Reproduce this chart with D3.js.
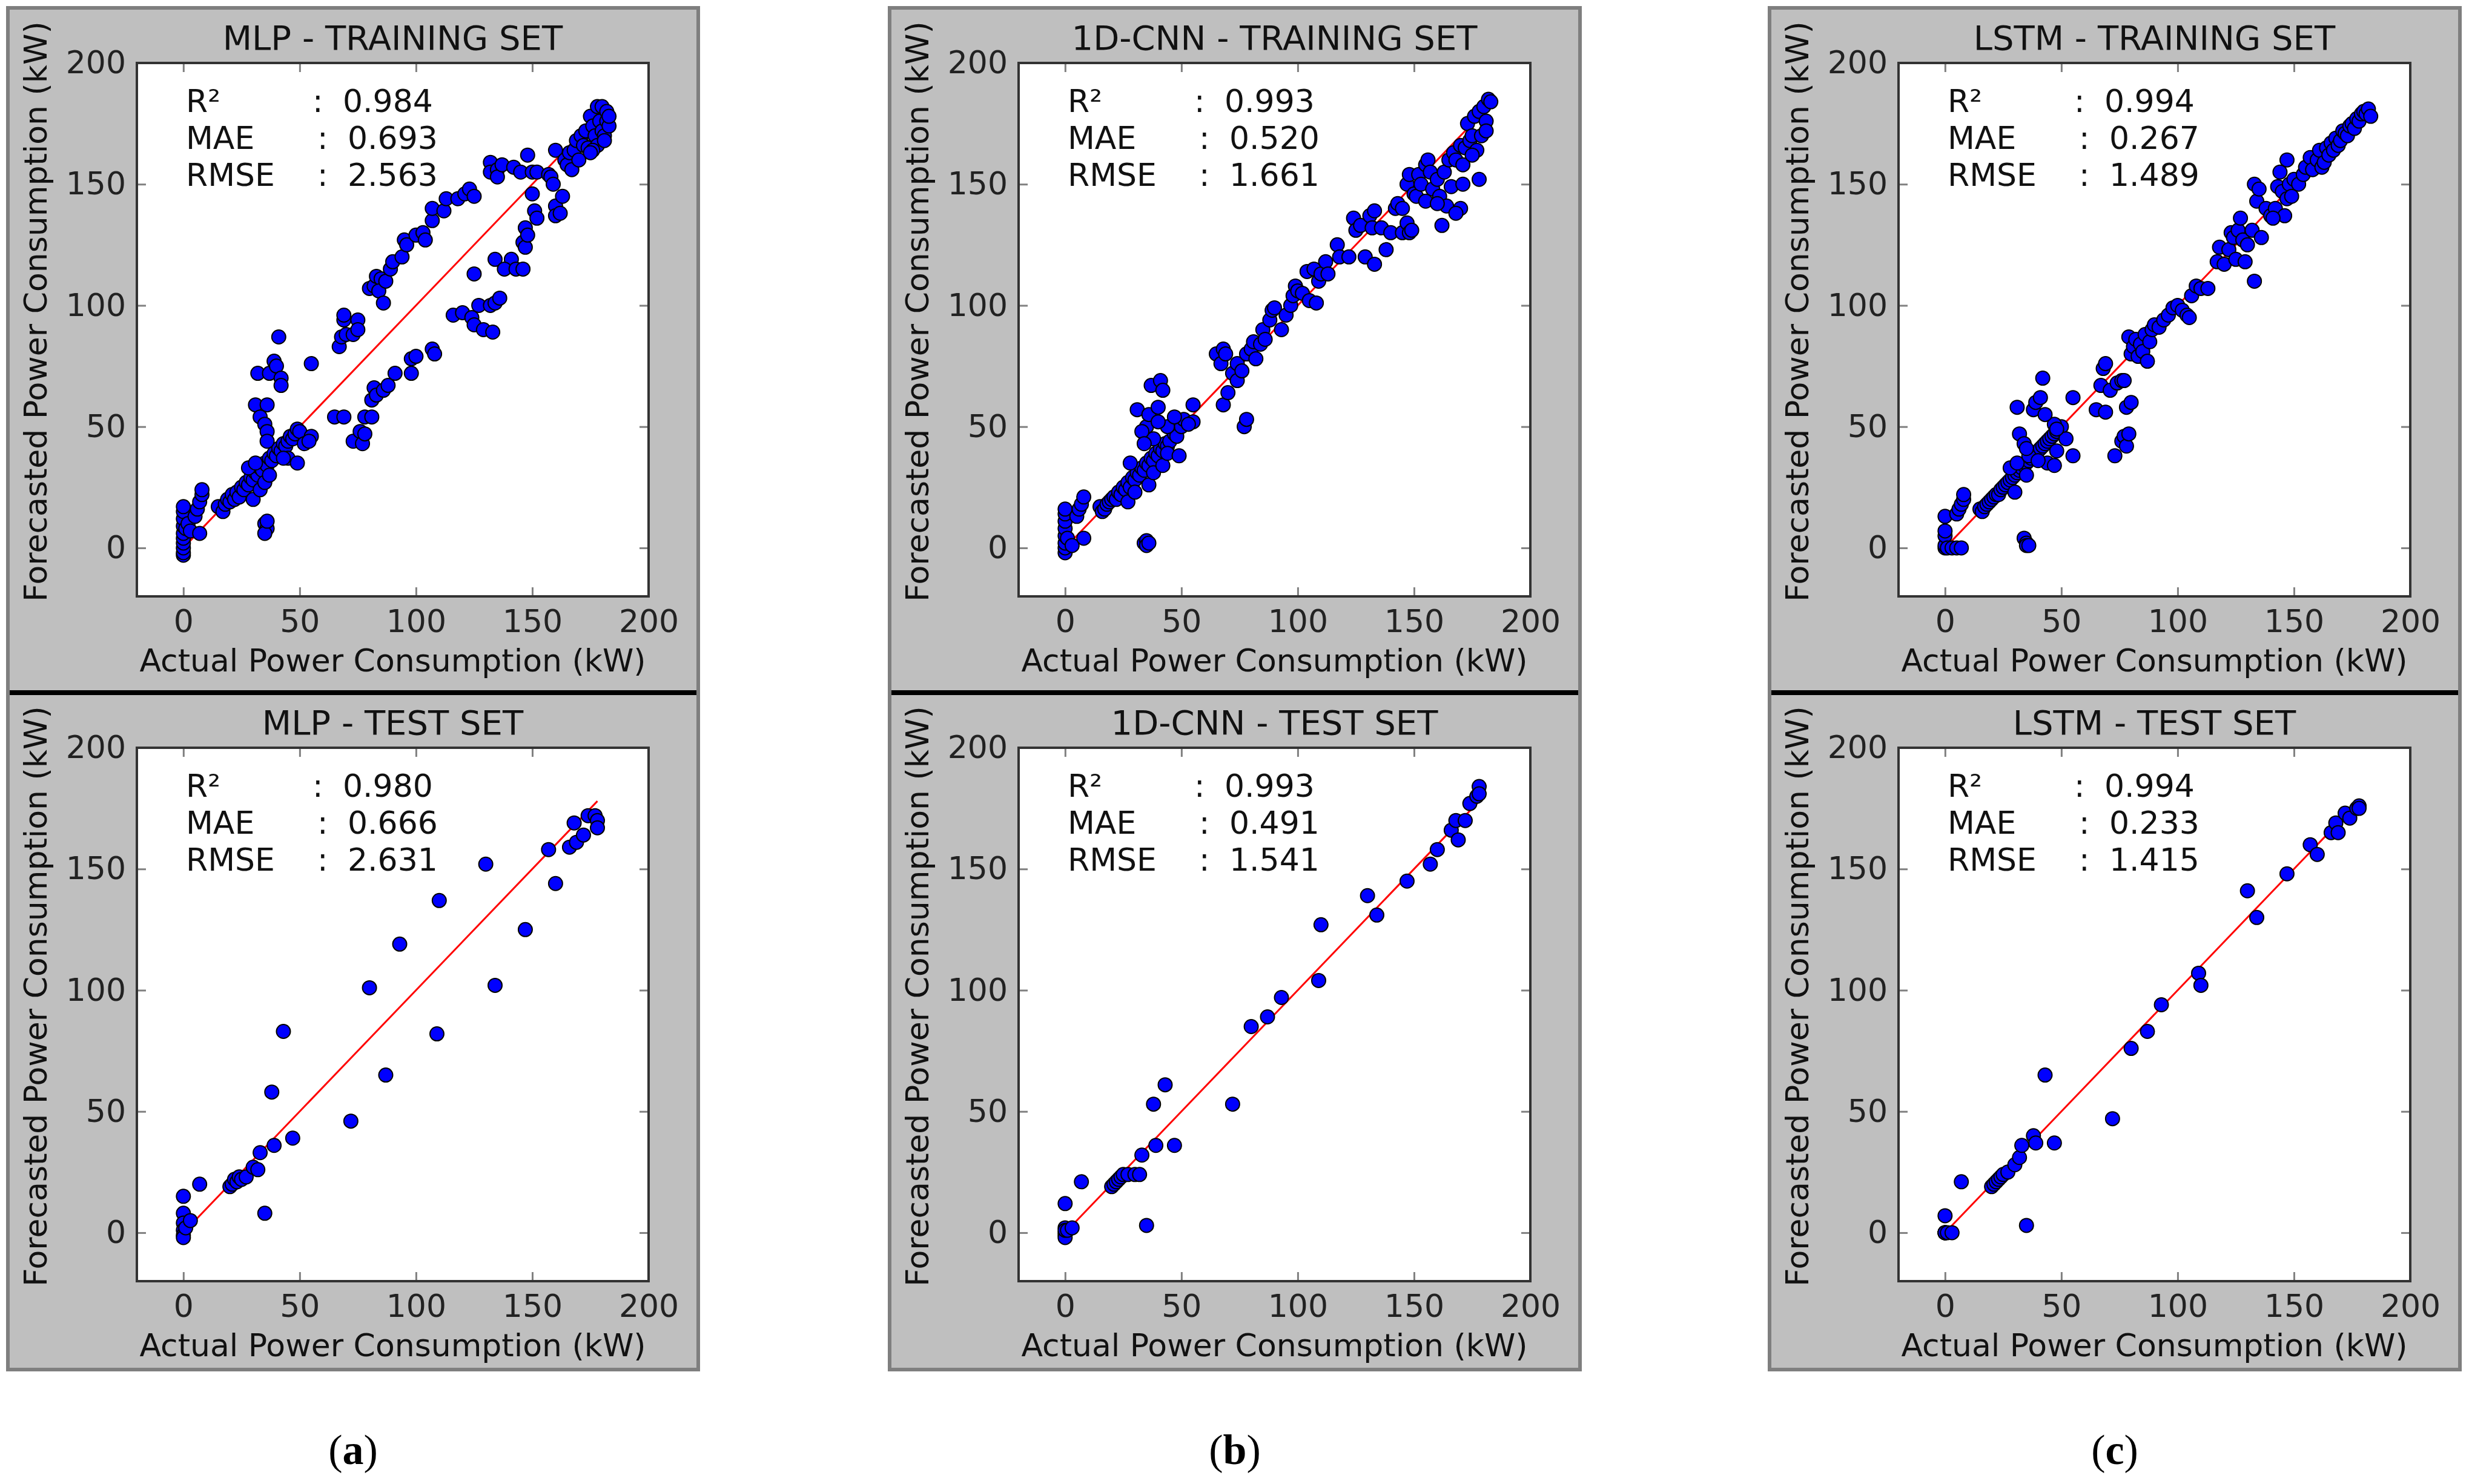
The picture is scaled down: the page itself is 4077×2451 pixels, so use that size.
<!DOCTYPE html>
<html>
<head>
<meta charset="utf-8">
<script src="https://cdn.jsdelivr.net/npm/d3@7"></script>
<style>
  body { margin: 0; background: #fff; }
  svg text { font-family: "DejaVu Sans", sans-serif; }
</style>
</head>
<body>
<svg id="chart" width="4077" height="2451"></svg>
<script>
// Shared actual values of the test set
const testActual = [0,0,0,0,0,0,1,3,7,20,21,22,23,24,25,27,30,32,33,35,38,39,43,47,72,80,87,93,109,110,130,134,147,157,160,166,168,169,172,174,177,178,178];
const mlpTest  = [15,8,4,1,-1,-2,2,5,20,19,20,22,21,23,22,23,27,26,33,8,58,36,83,39,46,101,65,119,82,137,152,102,125,158,144,159,169,161,164,172,172,170,167];
const cnnTest  = [12,2,0,-1,-2,1,1,2,21,19,20,21,22,23,24,24,24,24,32,3,53,36,61,36,53,85,89,97,104,127,139,131,145,152,158,166,170,162,170,177,180,184,181];
const lstmTest = [7,0,0,0,0,0,0,0,21,19,20,21,22,23,24,25,28,31,36,3,40,37,65,37,47,76,83,94,107,102,141,130,148,160,156,165,169,165,173,171,175,176,175];

// Training sets: [actual, forecast]
const mlpTrain = [[0,-3],[0,-2],[0,0],[0,2],[0,4],[0,6],[0,9],[0,12],[0,15],[0,17],[1,8],[2,10],[3,7],[5,13],[6,16],[7,19],[8,22],[8,24],[7,6],
[15,17],[17,15],[18,18],[19,20],[20,19],[21,22],[22,20],[23,23],[24,21],[25,25],[26,24],[27,27],[28,26],[29,29],[30,28],[31,31],[32,30],[33,33],[34,32],[35,35],[36,34],[37,37],[38,36],[39,39],[40,38],[41,41],[42,40],[43,43],[44,42],[45,44],[46,46],[47,45],[48,47],[49,49],[50,48],[30,20],[33,24],[35,27],[37,30],[28,33],[31,35],[45,37],[43,37],[49,35],[52,43],[55,46],[54,44],
[35,10],[36,8],[35,6],[36,11],
[32,72],[37,72],[39,77],[40,75],[42,70],[42,67],[41,87],[55,76],[31,59],[36,59],[33,54],[35,51],[36,48],[36,44],
[67,83],[68,87],[69,94],[69,96],[70,88],[73,88],[75,94],[75,90],[80,107],[82,108],[83,112],[85,111],[84,106],[87,110],[86,101],[89,115],[90,118],[94,120],[95,127],[96,125],[100,129],[103,130],[104,127],[107,135],[107,140],[112,139],[113,144],[118,144],[121,146],[123,148],[125,145],
[65,54],[69,54],[73,44],[76,48],[77,43],[78,47],[78,54],[81,54],[81,61],[82,66],[83,63],[86,65],[88,67],[91,72],[98,72],[98,78],[100,79],[107,82],[108,80],[116,96],[120,97],[124,95],[125,92],[127,100],[129,90],[132,100],[133,89],[134,101],[136,103],[125,113],[134,119],[141,119],[138,115],[143,115],[146,115],[146,126],[147,124],[147,132],[148,129],
[132,159],[132,155],[135,156],[135,153],[137,158],[142,157],[145,155],[148,162],[150,155],[152,155],[150,146],[151,139],[152,136],[157,154],[158,153],[159,150],[160,164],[160,141],[160,137],[162,138],[163,145],[164,160],[165,158],[166,163],[167,156],[168,164],[169,168],[170,160],[171,170],[172,166],[173,172],[174,165],[175,178],[176,174],[177,170],[178,182],[178,166],[179,176],[180,182],[180,172],[181,170],[182,180],[182,176],[183,174],[183,178],[181,168],[176,164],[175,163]];

const cnnTrain = [[0,-2],[0,0],[0,2],[0,5],[0,8],[0,11],[0,14],[0,16],[1,4],[3,1],[5,13],[6,16],[7,18],[8,21],[8,4],
[15,17],[16,15],[17,16],[18,18],[19,19],[20,20],[21,21],[22,20],[23,23],[24,22],[25,25],[26,24],[27,27],[28,25],[29,29],[30,28],[31,31],[32,30],[33,33],[34,32],[35,35],[36,34],[37,37],[38,36],[39,39],[40,38],[41,41],[42,40],[43,43],[44,42],[45,44],[47,47],[48,46],[50,50],[27,19],[30,23],[36,26],[38,31],[42,34],[44,39],[49,38],[51,53],[55,52],[53,51],
[31,57],[35,50],[36,55],[37,67],[41,69],[42,65],[40,58],[38,45],[33,48],[34,43],[44,50],[47,54],[55,59],[40,52],[28,35],
[34,2],[35,3],[35,1],[36,2],
[65,80],[68,82],[67,76],[68,59],[69,80],[70,64],[72,72],[74,69],[74,76],[76,73],[77,50],[78,53],[78,80],[80,82],[81,85],[82,78],[84,84],[85,90],[86,86],[88,94],[89,98],[90,99],[93,90],[95,96],[97,100],[98,104],[99,108],[100,106],[102,105],[104,114],[105,102],[107,115],[108,101],[109,110],[110,113],[112,118],[113,113],[117,125],[118,120],[122,120],[124,136],[125,131],[127,133],[129,120],[131,137],[132,132],[133,139],[133,117],[136,132],[138,123],[140,130],[142,140],[143,142],[145,130],[147,134],[148,130],[149,131],[147,150],[148,154],[150,146],[151,145],[152,154],[153,150],[155,158],[156,160],[157,155],[158,148],[160,152],[161,145],[162,133],[163,155],[164,141],[165,160],[166,149],[167,163],[168,160],[170,166],[171,150],[171,158],[172,165],[173,175],[174,168],[175,170],[176,178],[177,164],[178,152],[178,180],[179,170],[180,182],[181,176],[182,185],[183,184],[181,172],[175,162],[170,140],[168,138],[155,143],[145,140],[160,142]];

const lstmTrain = [[0,0],[0,1],[0,5],[0,7],[0,13],[1,0],[3,0],[5,0],[7,0],[5,14],[6,16],[7,18],[8,20],[8,22],
[15,16],[16,15],[17,17],[18,18],[19,19],[20,20],[21,21],[22,22],[23,22],[24,24],[25,25],[26,26],[27,27],[28,28],[29,29],[30,30],[31,31],[32,32],[33,33],[34,34],[35,35],[36,36],[37,37],[38,38],[39,39],[40,40],[41,41],[42,42],[43,43],[44,44],[45,45],[46,46],[47,47],[48,48],[49,49],[50,50],[30,23],[28,33],[31,35],[35,30],[44,35],[47,34],[48,40],[52,45],[55,38],[55,62],[47,51],[48,49],[36,38],[40,36],
[32,47],[31,58],[38,57],[39,60],[41,62],[42,70],[43,55],[34,43],[35,41],
[34,4],[35,2],[35,1],[36,1],
[65,57],[67,67],[68,74],[69,76],[69,56],[71,65],[73,38],[74,68],[76,69],[77,69],[76,44],[77,46],[78,42],[79,47],[78,58],[80,60],[79,87],[80,80],[81,83],[82,86],[83,79],[84,84],[85,81],[86,88],[87,77],[88,85],[89,90],[90,92],[92,91],[94,94],[96,96],[98,99],[100,100],[102,98],[104,96],[105,95],[106,104],[108,108],[110,107],[113,107],[117,118],[118,124],[120,117],[122,123],[123,130],[124,128],[125,119],[126,131],[127,136],[128,127],[129,118],[130,125],[132,131],[133,110],[133,150],[134,143],[135,148],[136,128],[138,140],[140,137],[142,140],[143,149],[144,155],[145,147],[146,137],[147,144],[148,150],[149,145],[150,152],[152,150],[154,154],[155,157],[157,161],[158,156],[160,160],[161,164],[162,157],[163,159],[164,165],[165,162],[166,167],[167,164],[168,169],[169,166],[170,168],[171,172],[172,171],[173,170],[174,174],[175,175],[176,173],[177,177],[178,176],[179,179],[180,180],[181,179],[182,181],[183,178],[147,160],[141,136]];

const models = ['MLP', '1D-CNN', 'LSTM'];
const panelLetters = ['a', 'b', 'c'];
const trainSets = [mlpTrain, cnnTrain, lstmTrain];
const testSets = [mlpTest, cnnTest, lstmTest].map(f => testActual.map((x, i) => [x, f[i]]));
const stats = [
  { train: ['0.984', '0.693', '2.563'], test: ['0.980', '0.666', '2.631'] },
  { train: ['0.993', '0.520', '1.661'], test: ['0.993', '0.491', '1.541'] },
  { train: ['0.994', '0.267', '1.489'], test: ['0.994', '0.233', '1.415'] }
];
const statNames = ['R\u00B2', 'MAE', 'RMSE'];
const ticks = [0, 50, 100, 150, 200];
const lineEnd = [{ train: 182, test: 178 }, { train: 182, test: 178 }, { train: 182, test: 178 }];

const svg = d3.select('#chart');
const panelX = [13, 1469, 2922];
const panelW = 1140, panelTop = 13, panelBottom = 2262, midY = 1144;
const plotOff = 213, plotW = 845;
const rows = [
  { key: 'train', label: 'TRAINING SET', top: 104, bottom: 985 },
  { key: 'test', label: 'TEST SET', top: 1235, bottom: 2116 }
];
const FS = 52;

models.forEach((model, m) => {
  const px = panelX[m];
  const g = svg.append('g');
  g.append('rect').attr('x', px).attr('y', panelTop).attr('width', panelW).attr('height', panelBottom - panelTop)
    .attr('fill', '#bfbfbf').attr('stroke', '#7f7f7f').attr('stroke-width', 6);
  g.append('line').attr('x1', px + 3).attr('x2', px + panelW - 3).attr('y1', midY).attr('y2', midY)
    .attr('stroke', '#000').attr('stroke-width', 8);

  rows.forEach(row => {
    const data = row.key === 'train' ? trainSets[m] : testSets[m];
    const x = d3.scaleLinear().domain([-20, 200]).range([px + plotOff, px + plotOff + plotW]);
    const y = d3.scaleLinear().domain([-20, 200]).range([row.bottom, row.top]);
    const cx = px + plotOff + plotW / 2;

    g.append('rect').attr('x', x(-20)).attr('y', row.top).attr('width', plotW).attr('height', row.bottom - row.top)
      .attr('fill', '#fff');

    // inward ticks on all four sides
    const tl = 15;
    g.append('g').attr('transform', `translate(0,${row.bottom})`)
      .call(d3.axisBottom(x).tickValues(ticks).tickSizeInner(-tl).tickSizeOuter(0).tickPadding(22))
      .call(a => a.select('.domain').remove());
    g.append('g').attr('transform', `translate(0,${row.top})`)
      .call(d3.axisTop(x).tickValues(ticks).tickSizeInner(-tl).tickSizeOuter(0).tickFormat(''))
      .call(a => a.select('.domain').remove());
    g.append('g').attr('transform', `translate(${x(-20)},0)`)
      .call(d3.axisLeft(y).tickValues(ticks).tickSizeInner(-tl).tickSizeOuter(0).tickPadding(18))
      .call(a => a.select('.domain').remove());
    g.append('g').attr('transform', `translate(${x(200)},0)`)
      .call(d3.axisRight(y).tickValues(ticks).tickSizeInner(-tl).tickSizeOuter(0).tickFormat(''))
      .call(a => a.select('.domain').remove());
    g.selectAll('.tick line').attr('stroke', '#808080').attr('stroke-width', 3);
    g.selectAll('.tick text').attr('font-size', FS).attr('fill', '#222')
      .attr('font-family', '"DejaVu Sans", sans-serif');

    // red diagonal
    const le = lineEnd[m][row.key];
    g.append('line').attr('x1', x(0)).attr('y1', y(0)).attr('x2', x(le)).attr('y2', y(le))
      .attr('stroke', '#ff0000').attr('stroke-width', 3);

    g.append('g').selectAll('circle').data(data).join('circle')
      .attr('cx', d => x(d[0])).attr('cy', d => y(d[1])).attr('r', 11.5)
      .attr('fill', '#0000ff').attr('stroke', '#000').attr('stroke-width', 2);

    g.append('rect').attr('x', x(-20)).attr('y', row.top).attr('width', plotW).attr('height', row.bottom - row.top)
      .attr('fill', 'none').attr('stroke', '#333').attr('stroke-width', 4);

    // stats block
    statNames.forEach((s, i) => {
      const by = row.top + 81 + i * 61;
      const shift = i === 0 ? 0 : 8;
      g.append('text').attr('x', x(-20) + 81).attr('y', by).attr('font-size', FS).attr('fill', '#111').text(s);
      g.append('text').attr('x', x(-20) + 290 + shift).attr('y', by).attr('font-size', FS).attr('fill', '#111').text(':');
      g.append('text').attr('x', x(-20) + 340 + shift).attr('y', by).attr('font-size', FS).attr('fill', '#111').text(stats[m][row.key][i]);
    });

    g.append('text').attr('x', cx).attr('y', row.top - 22).attr('text-anchor', 'middle')
      .attr('font-size', FS + 4).attr('fill', '#111').text(`${model} - ${row.label}`);
    g.append('text').attr('x', cx).attr('y', row.bottom + 124).attr('text-anchor', 'middle')
      .attr('font-size', FS).attr('fill', '#111').text('Actual Power Consumption (kW)');
    const ly = (row.top + row.bottom) / 2 - 30;
    g.append('text').attr('transform', `translate(${px + 64},${ly}) rotate(-90)`).attr('text-anchor', 'middle')
      .attr('font-size', FS).attr('fill', '#111').text('Forecasted Power Consumption (kW)');
  });

  const lab = svg.append('text').attr('x', px + panelW / 2).attr('y', 2418).attr('text-anchor', 'middle')
    .attr('font-size', 70).style('font-family', '"Liberation Serif", serif');
  lab.append('tspan').text('(');
  lab.append('tspan').attr('font-weight', 'bold').text(panelLetters[m]);
  lab.append('tspan').text(')');
});
</script>
</body>
</html>
